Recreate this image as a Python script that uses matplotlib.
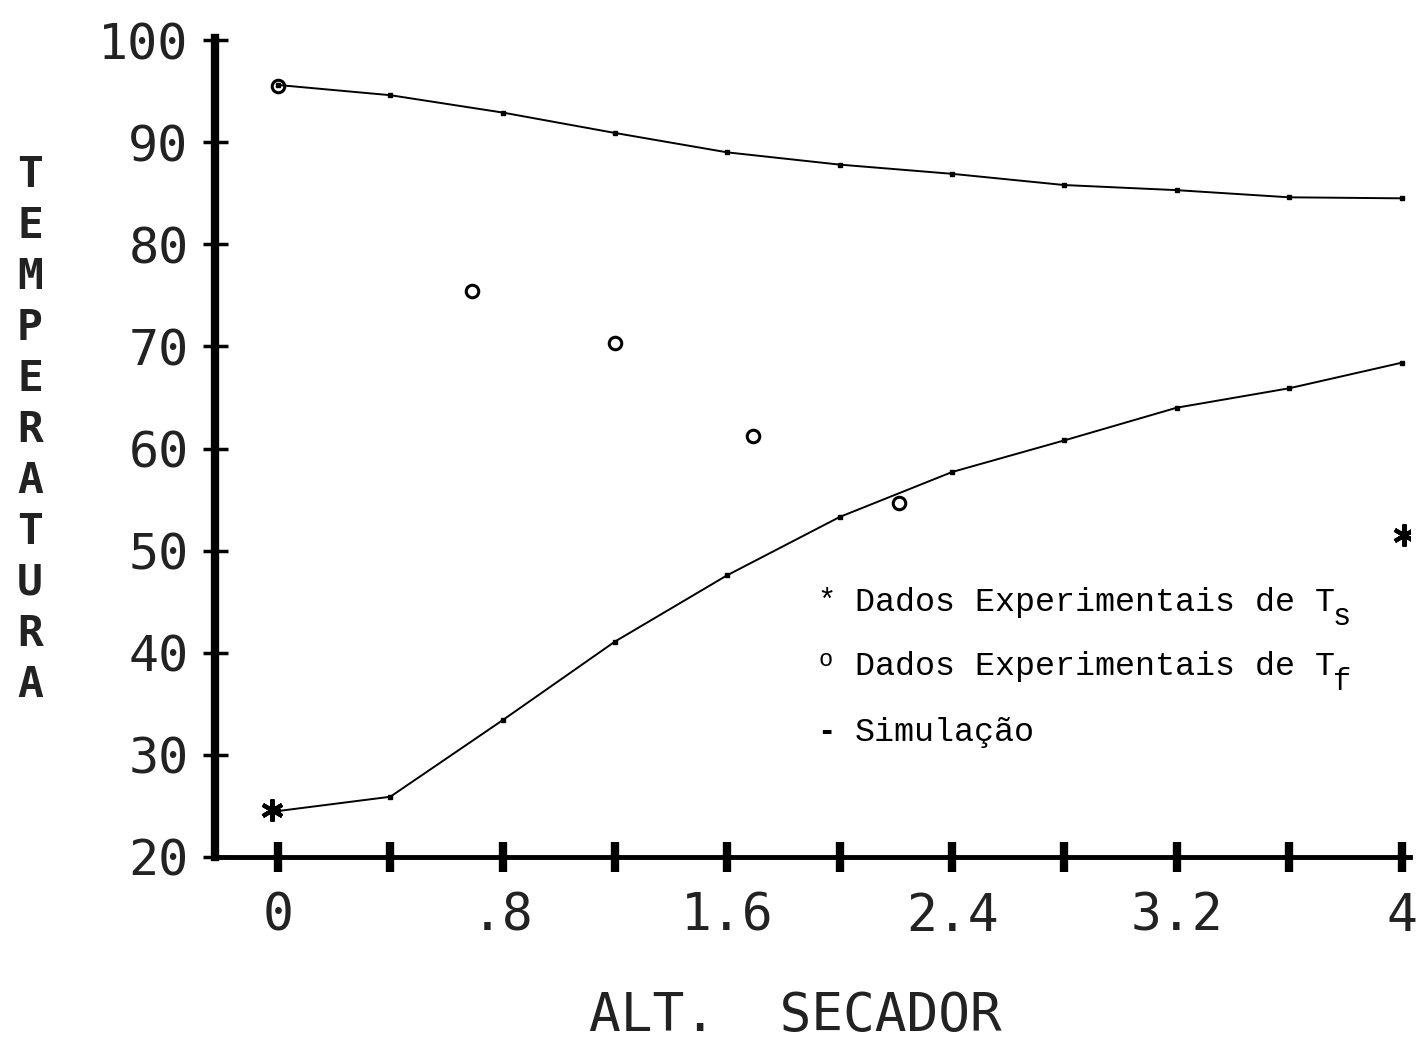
import matplotlib
matplotlib.use("Agg")
import matplotlib.pyplot as plt
import numpy as np

# ---- data ----
sim_x = [0.0, 0.4, 0.8, 1.2, 1.6, 2.0, 2.4, 2.8, 3.2, 3.6, 4.0]
sim_tf = [95.6, 94.6, 92.9, 90.9, 89.0, 87.8, 86.9, 85.8, 85.3, 84.6, 84.5]
sim_ts = [24.5, 25.9, 33.4, 41.1, 47.6, 53.3, 57.7, 60.8, 64.0, 65.9, 68.4]

exp_tf_x = [0.0, 0.69, 1.2, 1.69, 2.21]
exp_tf_y = [95.5, 75.4, 70.3, 61.2, 54.7]

exp_ts_x = [-0.02, 4.01]
exp_ts_y = [24.6, 51.5]

xticks = [0, 0.8, 1.6, 2.4, 3.2, 4.0]
xtick_labels = ["0", ".8", "1.6", "2.4", "3.2", "4"]
xminor = [0.4, 1.2, 2.0, 2.8, 3.6]
yticks = [20, 30, 40, 50, 60, 70, 80, 90, 100]
ytick_labels = [str(v) for v in yticks]

xlabel = "ALT.  SECADOR"
ylabel = "TEMPERATURA"
legend_items = [("*", "Dados Experimentais de T", "s"),
                ("o", "Dados Experimentais de T", "f"),
                ("-", "Simulação", "")]

W, H = 1418, 1049
fig = plt.figure(figsize=(W / 100, H / 100), dpi=100)
ax = fig.add_axes([215 / W, 1 - 857 / H, (1410 - 215) / W, (857 - 38) / H])

ax.set_xlim(-0.224, 4.03)
ax.set_ylim(20, 100.2)

for ys in (sim_tf, sim_ts):
    ax.plot(sim_x, ys, color="black", lw=1.4, marker="s", ms=3.5, zorder=3)

ax.plot(exp_tf_x, exp_tf_y, ls="none", marker="o", ms=9, mfc="none",
        mec="black", mew=2.2, zorder=4)
ax.plot(exp_ts_x, exp_ts_y, ls="none", marker=(6, 2, 0), ms=16, color="black",
        mew=3, zorder=4)

for s in ("top", "right"):
    ax.spines[s].set_visible(False)
ax.spines["left"].set_linewidth(6)
ax.spines["bottom"].set_linewidth(3.5)

mono = "DejaVu Sans Mono"
ax.set_xticks(xticks)
ax.set_xticklabels(xtick_labels, fontsize=37, family=mono, color="#222222")
ax.set_xticks(xminor, minor=True)
ax.set_yticks(yticks)
ax.set_yticklabels(ytick_labels, fontsize=36, family=mono, color="#222222")
ax.tick_params(axis="x", which="both", direction="inout", length=22, width=6, pad=14)
ax.tick_params(axis="y", which="major", direction="inout", length=18, width=2.5, pad=10)

fig.text(795 / W, 1 - 1016 / H, xlabel, ha="center", va="center",
         fontsize=38, family=mono, color="#222222")
fig.text(30 / W, 1 - 430 / H, "\n".join(ylabel), ha="center", va="center",
         fontsize=31, family=mono, fontweight="bold", linespacing=1.27,
         color="#222222")

leg_font = "Liberation Mono"
rows_y = [602, 667, 732]
for (sym, txt, sub), yy in zip(legend_items, rows_y):
    sy = yy - 8 if sym == "o" else yy
    fig.text(826 / W, 1 - sy / H, sym, ha="center", va="center",
             fontsize=22 if sym != "o" else 17, family=leg_font,
             fontweight="bold" if sym == "-" else "normal")
    fig.text(855 / W, 1 - yy / H, txt, ha="left", va="center",
             fontsize=24, family=leg_font)
    if sub:
        fig.text(1333 / W, 1 - (yy + 15) / H, sub, ha="left", va="center",
                 fontsize=22, family=leg_font)

fig.savefig("out.png", dpi=100, facecolor="white")
